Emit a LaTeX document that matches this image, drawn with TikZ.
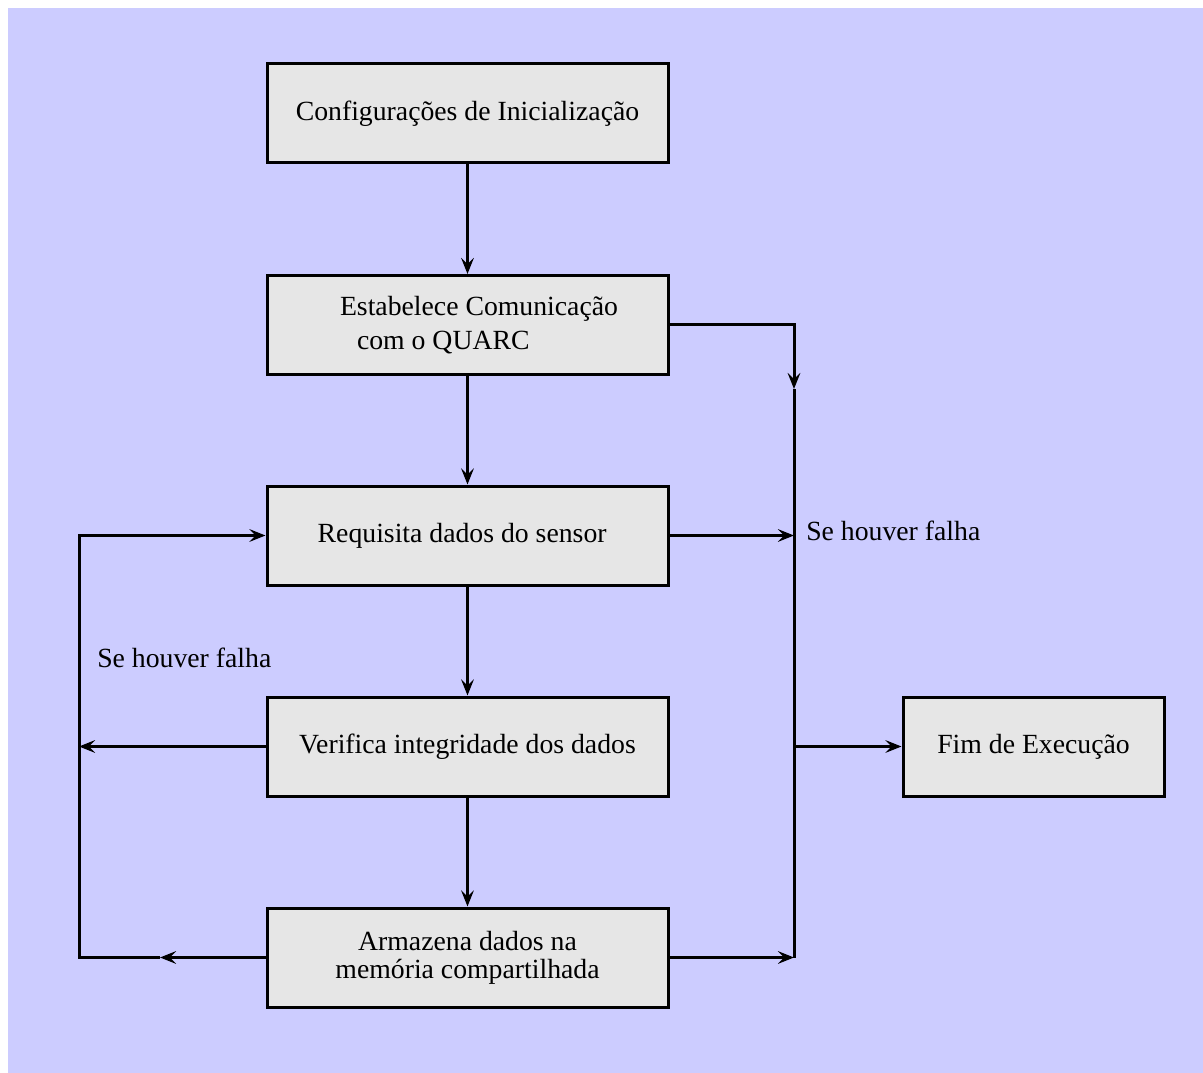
\documentclass[tikz,border=0pt]{standalone}
\usepackage{fontspec}
\setmainfont{Liberation Serif}
\usetikzlibrary{arrows.meta}
\definecolor{bglav}{HTML}{CCCCFF}
\definecolor{boxgray}{HTML}{E6E6E6}
\begin{document}
\begin{tikzpicture}[x=0.75pt,y=-0.75pt,
  txt/.style={font=\fontsize{20.8}{25}\selectfont},
  box/.style={txt, draw, line width=2.25pt, fill=boxgray, minimum width=300.75pt,
    minimum height=74.25pt, inner sep=0pt, align=center},
  ln/.style={line width=2.25pt, line join=miter},
  arr/.style={ln, -{Stealth[length=12pt,width=9.5pt,inset=4.5pt]}}]
\fill[white] (0,0) rectangle (1203,1073);
\fill[bglav] (8,8) rectangle (1203,1073);
\useasboundingbox (0,0) rectangle (1203,1073);

\node[box] (n1) at (467.5,113.5) {Configurações de Inicialização};
\node[box, align=left] (n2) at (467.5,325)
  {\hspace*{17.25pt}Estabelece Comunicação\\\hspace*{30pt}com o QUARC};
\node[box] (n3) at (467.5,535.5) {\hspace*{-8pt}Requisita dados do sensor};
\node[box] (n4) at (467.5,746.5) {Verifica integridade dos dados};
\node[box] (n5) at (467.5,957.5) {Armazena dados na\\[-4pt]memória compartilhada};
\node[box, minimum width=195.75pt] (n6) at (1033.5,746.5) {Fim de Execução};

\node[txt, anchor=west, inner sep=0pt] (lr) at (806,531) {Se houver falha};
\node[txt, anchor=west, inner sep=0pt] (ll) at (97,658) {Se houver falha};

\coordinate (ctop) at (794,325);
\coordinate (cdown) at (794,389);
\coordinate (cmid) at (794,535.5);
\coordinate (cfim) at (794,746.5);
\coordinate (cbot) at (794,957.5);
\coordinate (ltop) at (79,535.5);
\coordinate (lver) at (79,746.5);
\coordinate (lbot) at (79,957.5);
\coordinate (lmid) at (160,957.5);

\draw[arr] (n1) -- (n2);
\draw[arr] (n2) -- (n3);
\draw[arr] (n3) -- (n4);
\draw[arr] (n4) -- (n5);

\draw[arr] (n2.east) -- (ctop) -- (cdown);
\draw[ln] (cdown) -- (cbot);
\draw[arr] (n3.east) -- (cmid);
\draw[arr] (cfim) -- (n6.west);
\draw[arr] (n5.east) -- (cbot);

\draw[arr] (n5.west) -- (lmid);
\draw[arr] (lmid) -- (lbot) -- (ltop) -- (n3.west);
\draw[arr] (n4.west) -- (lver);
\end{tikzpicture}
\end{document}
